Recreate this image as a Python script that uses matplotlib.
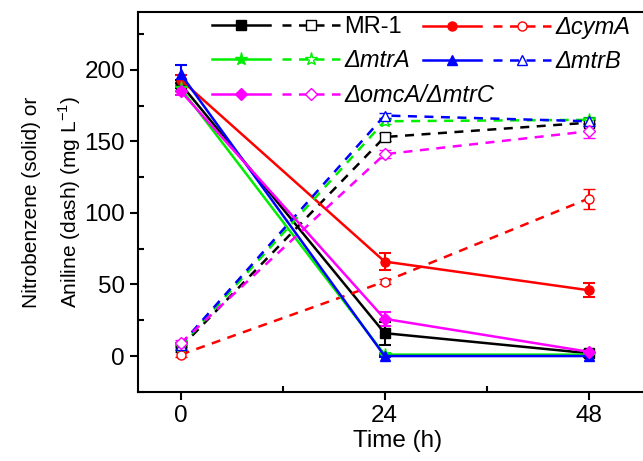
import matplotlib.pyplot as plt
from matplotlib.legend_handler import HandlerTuple
from matplotlib.ticker import MultipleLocator

plt.rcParams['font.family'] = ['Liberation Sans', 'DejaVu Sans']
plt.rcParams['mathtext.fontset'] = 'custom'
plt.rcParams['mathtext.rm'] = 'Liberation Sans'

time = [0, 24, 48]
strains = ['MR-1', 'ΔcymA', 'ΔmtrA', 'ΔmtrB', 'ΔomcA/ΔmtrC']
colors = ['black', 'red', '#00ee00', 'blue', '#ff00ff']
markers = ['s', 'o', '*', '^', 'D']

# nitrobenzene (solid lines)
nb = [
    [190, 16, 2],
    [193, 66, 46],
    [187, 1, 1],
    [197, 0, 0],
    [185, 26, 3],
]
nb_err = [
    [3, 8, 1],
    [3, 6, 5],
    [2, 1, 1],
    [6, 1, 1],
    [3, 5, 1],
]

# aniline (dashed lines)
an = [
    [6, 153, 163],
    [1, 52, 110],
    [7, 164, 165],
    [8, 168, 164],
    [9, 141, 157],
]
an_err = [
    [2, 3, 2],
    [2, 2, 7],
    [2, 2, 2],
    [2, 2, 2],
    [2, 3, 5],
]

fig = plt.figure(figsize=(6.43, 4.61), dpi=100)
ax = fig.add_axes([0.215, 0.150, 0.806, 0.823])

handles = []
for i in range(len(strains)):
    c = colors[i]
    ms = 9.5 if markers[i] == '*' else 6.5
    s = ax.errorbar(time, nb[i], yerr=nb_err[i], color=c, marker=markers[i], ms=ms,
                    lw=1.8, capsize=4, capthick=1.5, elinewidth=1.5, mfc=c, mec=c)
    d = ax.errorbar(time, an[i], yerr=an_err[i], color=c, marker=markers[i], ms=ms,
                    lw=1.8, ls=(0, (3.6, 3)), capsize=4, capthick=1.5, elinewidth=1.5,
                    mfc='white', mec=c, mew=1)
    handles.append((s[0], d[0]))

leg_kw = dict(handler_map={tuple: HandlerTuple(ndivide=None, pad=0.5)},
              frameon=False, fontsize=17, handlelength=5.4, loc='upper left',
              bbox_transform=fig.transFigure, borderpad=0, borderaxespad=0,
              handletextpad=0.2, labelspacing=0.48)

# two legend columns placed side by side
col1 = [0, 2, 4]
col2 = [1, 3]
leg1 = ax.legend([handles[k] for k in col1], [strains[k] for k in col1],
                 bbox_to_anchor=(0.330, 0.965), **leg_kw)
ax.add_artist(leg1)
leg2 = ax.legend([handles[k] for k in col2], [strains[k] for k in col2],
                 bbox_to_anchor=(0.658, 0.965), **leg_kw)
for leg, idx in ((leg1, col1), (leg2, col2)):
    for t, k in zip(leg.get_texts(), idx):
        if k != 0:
            t.set_fontstyle('italic')

ax.set_xlim(-5, 56)
ax.set_ylim(-25, 240)
ax.set_xticks([0, 24, 48])
ax.xaxis.set_minor_locator(MultipleLocator(12))
ax.yaxis.set_major_locator(MultipleLocator(50))
ax.yaxis.set_minor_locator(MultipleLocator(25))
ax.tick_params(which='major', direction='out', length=6, width=1.5, labelsize=17.5)
ax.tick_params(which='minor', direction='in', length=4, width=1.5)
for sp in ax.spines.values():
    sp.set_linewidth(1.5)

ax.set_xlabel('Time (h)', fontsize=17.5, labelpad=2)
ax.set_ylabel('Nitrobenzene (solid) or\nAniline (dash) (mg L$^{-1}$)', fontsize=15,
              labelpad=1, linespacing=1.75)

fig.savefig('out.png', dpi=100)
